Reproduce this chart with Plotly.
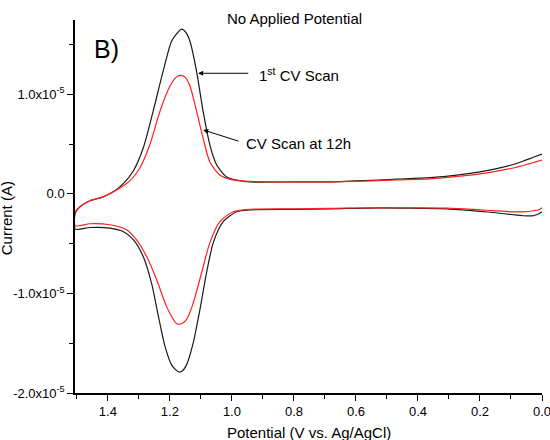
import plotly.graph_objects as go

# Potential (V vs. Ag/AgCl) and current (units of 1e-5 A)
scan1_lower_x = [0.0, 0.01, 0.028, 0.06, 0.093, 0.15, 0.2, 0.255, 0.308, 0.4, 0.523, 0.684, 0.8, 0.942, 0.985,
                 1.028, 1.06, 1.082, 1.103, 1.125, 1.146, 1.16, 1.17, 1.18, 1.195, 1.216, 1.237, 1.259, 1.286,
                 1.318, 1.351, 1.394, 1.458, 1.505]
scan1_lower_y = [-0.18, -0.20, -0.22, -0.22, -0.21, -0.19, -0.175, -0.16, -0.15, -0.145, -0.14, -0.15, -0.155,
                 -0.16, -0.18, -0.28, -0.49, -0.795, -1.16, -1.50, -1.715, -1.78, -1.79, -1.77, -1.715, -1.53,
                 -1.23, -0.90, -0.63, -0.46, -0.378, -0.344, -0.338, -0.354]
scan1_upper_x = [1.505, 1.49, 1.458, 1.415, 1.383, 1.351, 1.318, 1.286, 1.254, 1.222, 1.195, 1.178, 1.162,
                 1.148, 1.135, 1.114, 1.093, 1.071, 1.049, 1.017, 0.98, 0.942, 0.8, 0.684, 0.55, 0.469, 0.361,
                 0.255, 0.2, 0.15, 0.093, 0.06, 0.03, 0.0]
scan1_upper_y = [-0.19, -0.13, -0.07, -0.03, 0.02, 0.10, 0.23, 0.46, 0.83, 1.23, 1.53, 1.61, 1.655,
                 1.62, 1.53, 1.23, 0.83, 0.49, 0.29, 0.17, 0.135, 0.12, 0.12, 0.12, 0.135, 0.147, 0.162,
                 0.195, 0.22, 0.25, 0.295, 0.33, 0.365, 0.40]

scan12_lower_x = [0.0, 0.01, 0.028, 0.06, 0.093, 0.15, 0.2, 0.308, 0.4, 0.523, 0.684, 0.8, 0.942, 0.996,
                  1.039, 1.071, 1.098, 1.125, 1.146, 1.16, 1.17, 1.18, 1.189, 1.211, 1.243, 1.275, 1.308,
                  1.34, 1.394, 1.458, 1.505]
scan12_lower_y = [-0.14, -0.16, -0.17, -0.18, -0.18, -0.17, -0.16, -0.143, -0.14, -0.14, -0.145, -0.15,
                  -0.155, -0.18, -0.28, -0.49, -0.795, -1.10, -1.26, -1.30, -1.31, -1.30, -1.26, -1.13,
                  -0.86, -0.63, -0.46, -0.36, -0.31, -0.30, -0.32]
scan12_upper_x = [1.505, 1.49, 1.458, 1.415, 1.383, 1.351, 1.329, 1.297, 1.265, 1.232, 1.2, 1.18, 1.165,
                  1.15, 1.135, 1.114, 1.093, 1.071, 1.039, 0.997, 0.942, 0.8, 0.684, 0.55, 0.469, 0.361,
                  0.255, 0.2, 0.15, 0.093, 0.05, 0.0]
scan12_upper_y = [-0.18, -0.13, -0.07, -0.03, 0.02, 0.08, 0.13, 0.26, 0.49, 0.83, 1.08, 1.17, 1.19,
                  1.17, 1.08, 0.83, 0.56, 0.32, 0.19, 0.14, 0.125, 0.12, 0.12, 0.13, 0.14, 0.15,
                  0.18, 0.20, 0.225, 0.26, 0.295, 0.34]

UNIT = 1e-5
y_tick_vals = [-2.0, -1.0, 0.0, 1.0]
y_tick_text = ["-2.0x10<sup>-5</sup>", "-1.0x10<sup>-5</sup>", "0.0", "1.0x10<sup>-5</sup>"]

FONT = "Liberation Sans, Arial, sans-serif"

fig = go.Figure()
fig.add_trace(go.Scatter(
    x=scan1_lower_x + scan1_upper_x,
    y=[v * UNIT for v in scan1_lower_y + scan1_upper_y],
    mode="lines", line=dict(color="#1a1a1a", width=1.2, shape="spline", smoothing=0.7),
    name="1st CV Scan", showlegend=False))
fig.add_trace(go.Scatter(
    x=scan12_lower_x + scan12_upper_x,
    y=[v * UNIT for v in scan12_lower_y + scan12_upper_y],
    mode="lines", line=dict(color="#ff2020", width=1.2, shape="spline", smoothing=0.7),
    name="CV Scan at 12h", showlegend=False))

axis_common = dict(showline=True, linecolor="black", linewidth=1.5, ticks="outside", ticklen=6,
                   tickwidth=1.3, tickcolor="black", showgrid=False, zeroline=False, mirror=False,
                   automargin=False, ticklabeloverflow="allow",
                   tickfont=dict(family=FONT, size=13, color="black"))

fig.update_xaxes(range=[1.506, 0.0], tick0=0, dtick=0.2, tickformat=".1f",
                 minor=dict(ticks="outside", ticklen=4, tickwidth=1.3, tickcolor="black", dtick=0.1, tick0=0),
                 **axis_common)
fig.update_yaxes(range=[-2.0 * UNIT, 1.746 * UNIT], tickmode="array",
                 tickvals=[v * UNIT for v in y_tick_vals], ticktext=y_tick_text,
                 minor=dict(ticks="outside", ticklen=4, tickwidth=1.3, tickcolor="black",
                            tickmode="linear", tick0=0, dtick=0.5 * UNIT),
                 **axis_common)

ann_font = dict(family=FONT, size=15, color="black")
annotations = [
    dict(text="No Applied Potential", xref="paper", yref="paper", x=0.470, y=1.0027,
         xanchor="center", yanchor="middle", showarrow=False, font=ann_font),
    dict(text="B)", xref="paper", yref="paper", x=0.068, y=0.922,
         xanchor="center", yanchor="middle", showarrow=False, font=dict(family=FONT, size=25, color="black")),
    dict(text="Potential (V vs. Ag/AgCl)", xref="paper", yref="paper", x=0.5, y=-0.1046,
         xanchor="center", yanchor="middle", showarrow=False, font=ann_font),
    dict(text="Current (A)", xref="paper", yref="paper", x=-0.146, y=0.468, textangle=-90,
         xanchor="center", yanchor="middle", showarrow=False, font=ann_font),
    dict(text="1<sup>st</sup> CV Scan", xref="paper", yref="paper", x=0.390, y=0.855,
         xanchor="left", yanchor="middle", showarrow=False, font=ann_font),
    dict(text="CV Scan at 12h", xref="paper", yref="paper", x=0.362, y=0.6676,
         xanchor="left", yanchor="middle", showarrow=False, font=ann_font),
    dict(text="", x=1.109, y=1.211 * UNIT, xref="x", yref="y", showarrow=True,
         ax=51.7, ay=0, arrowhead=2, arrowsize=1, arrowwidth=1, arrowcolor="black"),
    dict(text="", x=1.0926, y=0.642 * UNIT, xref="x", yref="y", showarrow=True,
         ax=36.7, ay=11.7, arrowhead=2, arrowsize=1, arrowwidth=1, arrowcolor="black"),
]

fig.update_layout(width=550, height=440, margin=dict(l=75, r=8, t=20, b=47, autoexpand=False),
                  paper_bgcolor="white", plot_bgcolor="white",
                  font=dict(family=FONT, color="black"),
                  annotations=annotations, showlegend=False)

fig.write_html("out.html", config={"displayModeBar": False},
               post_script="document.body.style.margin='0';")
